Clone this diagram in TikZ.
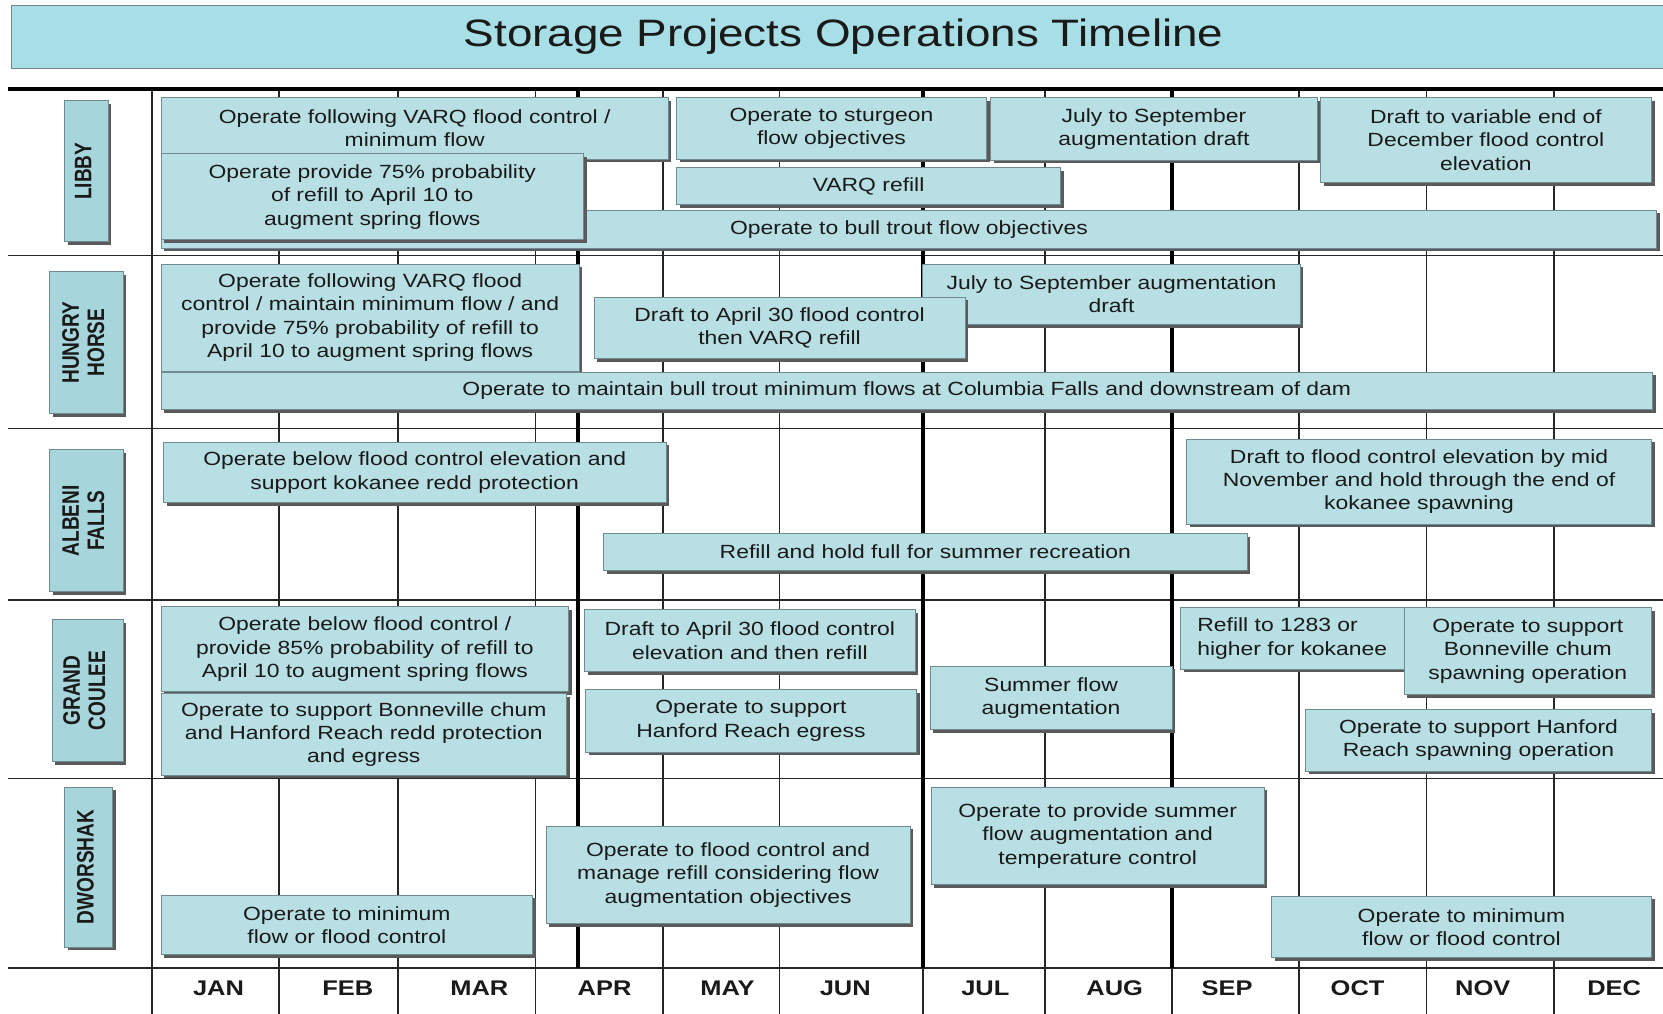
\documentclass[tikz,border=0pt]{standalone}
\usepackage{fontspec}
\usepackage{graphicx}
\setmainfont[FakeStretch=1.2]{Liberation Sans}
\newfontfamily\damfont{Liberation Sans}
\usetikzlibrary{shadows}

\definecolor{taskfill}{HTML}{B8DFE3}
\definecolor{titlefill}{HTML}{A8DEE6}
\definecolor{damfill}{HTML}{A6D6DB}
\definecolor{taskline}{HTML}{6F8B8F}
\definecolor{shade}{HTML}{5A5A5A}
\definecolor{ink}{HTML}{1A1A1A}

% upright project names, turned and widened like the month boxes
\newcommand\damname[1]{\rotatebox{90}{\scalebox{1}[1.25]{\damfont\bfseries
  \fontsize{18}{19}\selectfont\begin{tabular}{@{}c@{}}#1\end{tabular}}}}

\begin{document}
\begin{tikzpicture}[x=1pt, y=-1pt,
    task/.style={draw=taskline, line width=0.8pt, fill=taskfill, text=ink,
      inner sep=0pt, outer sep=0pt, anchor=north west, align=center,
      font=\fontsize{18}{22}\selectfont,
      drop shadow={shadow xshift=3pt, shadow yshift=-3pt, fill=shade, opacity=1}},
    boxsize/.style 2 args={minimum width=#1pt, minimum height=#2pt},
    dam/.style={draw=taskline, line width=0.8pt, fill=damfill, text=ink,
      inner sep=0pt, outer sep=0pt,
      drop shadow={shadow xshift=3pt, shadow yshift=-3pt, fill=shade, opacity=1}},
    month/.style={font=\fontsize{20}{22}\selectfont\bfseries, text=ink},
    rule/.style={line width=1.6pt, black!85},
    thickrule/.style={line width=4pt, black}]
  \useasboundingbox (0,0) rectangle (1568,956);

  % heading bar
  \node[draw=taskline, line width=0.8pt, fill=titlefill, anchor=north west,
    minimum width=1570pt, minimum height=59pt, inner sep=0pt,
    font=\fontsize{36}{40}\selectfont, text=ink] (title) at (10,5)
    {Storage Projects Operations Timeline};

  % grid of months and projects
  \foreach \x in {143,263,375,505,625,735,870,985,1105,1225,1345,1465}
    \draw[rule] (\x,84) -- (\x,956);
  \foreach \y in {241,404,566,734,913}
    \draw[rule] (8,\y) -- (1568,\y);
  \draw[thickrule] (8,84) -- (1568,84);
  \foreach \x in {545,870,1105}
    \draw[thickrule] (\x,84) -- (\x,913);

  \foreach \m/\x in {JAN/206,FEB/328,MAR/452,APR/570,MAY/686,JUN/797,
      JUL/929,AUG/1051,SEP/1157,OCT/1280,NOV/1398,DEC/1522}
    \node[month] (m\m) at (\x,932) {\m};

  % project labels
  \node[dam, minimum width=41pt, minimum height=133pt] (libby) at (81.5,161.5)
    {\damname{LIBBY}};
  \node[dam, minimum width=69pt, minimum height=134pt] (hungry) at (81.5,323)
    {\damname{HUNGRY\\HORSE}};
  \node[dam, minimum width=69pt, minimum height=134pt] (albeni) at (81.5,491)
    {\damname{ALBENI\\FALLS}};
  \node[dam, minimum width=67pt, minimum height=134pt] (grand) at (82.5,651)
    {\damname{GRAND\\COULEE}};
  \node[dam, minimum width=45pt, minimum height=151pt] (dworshak) at (83.5,817.5)
    {\damname{DWORSHAK}};

  % Libby
  \node[task, boxsize={478}{58}] (lb1) at (152,92)
    {Operate following VARQ flood control /\\minimum flow};
  \node[task, boxsize={1410}{36}] (lb7) at (152,198)
    {Operate to bull trout flow objectives};
  \node[task, boxsize={398}{81}] (lb5) at (152,145)
    {Operate provide 75\% probability\\of refill to April 10 to\\augment spring flows};
  \node[task, boxsize={292}{58}] (lb2) at (638,92)
    {Operate to sturgeon\\flow objectives};
  \node[task, boxsize={308}{59}] (lb3) at (934,92)
    {July to September\\augmentation draft};
  \node[task, boxsize={312}{80}] (lb4) at (1245,92)
    {Draft to variable end of\\December flood control\\elevation};
  \node[task, boxsize={362}{35}] (lb6) at (638,158) {VARQ refill};

  % Hungry Horse
  \node[task, boxsize={394}{101}] (hh1) at (152,249)
    {Operate following VARQ flood\\control / maintain minimum flow / and\\provide 75\% probability of refill to\\April 10 to augment spring flows};
  \node[task, boxsize={356}{57}] (hh3) at (870,249)
    {July to September augmentation\\draft};
  \node[task, boxsize={350}{58}] (hh2) at (560,280)
    {Draft to April 30 flood control\\then VARQ refill};
  \node[task, boxsize={1406}{35}] (hh4) at (152,351)
    {Operate to maintain bull trout minimum flows at Columbia Falls and downstream of dam};

  % Albeni Falls
  \node[task, boxsize={474}{57}] (af1) at (154,417)
    {Operate below flood control elevation and\\support kokanee redd protection};
  \node[task, boxsize={438}{80}] (af3) at (1119,414)
    {Draft to flood control elevation by mid\\November and hold through the end of\\kokanee spawning};
  \node[task, boxsize={607}{35}] (af2) at (569,503)
    {Refill and hold full for summer recreation};

  % Grand Coulee
  \node[task, boxsize={384}{80}] (gc1) at (152,572)
    {Operate below flood control /\\provide 85\% probability of refill to\\April 10 to augment spring flows};
  \node[task, boxsize={382}{77}] (gc2) at (152,654)
    {Operate to support Bonneville chum\\and Hanford Reach redd protection\\and egress};
  \node[task, boxsize={312}{58}] (gc3) at (551,575)
    {Draft to April 30 flood control\\elevation and then refill};
  \node[task, boxsize={312}{59}] (gc4) at (552,650)
    {Operate to support\\Hanford Reach egress};
  \node[task, boxsize={228}{60}] (gc5) at (877,628)
    {Summer flow\\augmentation};
  \node[task, boxsize={223}{58}, text width=191pt, inner xsep=16pt, align=left] (gc6) at (1113,573)
    {Refill to 1283 or\\higher for kokanee};
  \node[task, boxsize={233}{82}] (gc7) at (1324,573)
    {Operate to support\\Bonneville chum\\spawning operation};
  \node[task, boxsize={326}{58}] (gc8) at (1231,669)
    {Operate to support Hanford\\Reach spawning operation};

  % Dworshak
  \node[task, boxsize={350}{56}] (dw1) at (152,844)
    {Operate to minimum\\flow or flood control};
  \node[task, boxsize={343}{92}] (dw2) at (515,779)
    {Operate to flood control and\\manage refill considering flow\\augmentation objectives};
  \node[task, boxsize={314}{92}] (dw3) at (878,742)
    {Operate to provide summer\\flow augmentation and\\temperature control};
  \node[task, boxsize={358}{58}] (dw4) at (1199,845)
    {Operate to minimum\\flow or flood control};
\end{tikzpicture}
\end{document}
